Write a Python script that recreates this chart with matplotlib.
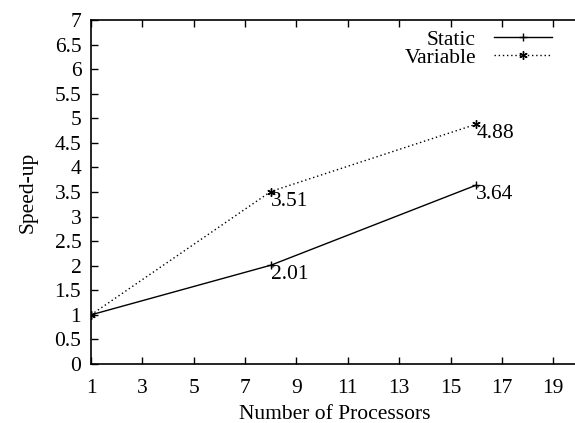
import matplotlib.pyplot as plt

processors = [1, 8, 16]
static = [1, 2.01, 3.64]
variable = [1, 3.51, 4.88]
xticks = [1, 3, 5, 7, 9, 11, 13, 15, 17, 19]
yticks = [0, 0.5, 1, 1.5, 2, 2.5, 3, 3.5, 4, 4.5, 5, 5.5, 6, 6.5, 7]

plt.rcParams['font.family'] = ['Liberation Serif', 'DejaVu Serif']
plt.rcParams['font.size'] = 15.5

fig = plt.figure(figsize=(5.75, 4.23), dpi=100)
# the scan is cut on the right, so the box runs past the edge of the picture
ax = fig.add_axes([91 / 575, 59 / 423, 488 / 575, 344 / 423])

ax.plot(processors, static, color='black', lw=1.0, marker='+', ms=6, mew=1.0, label='Static')
ax.plot(processors, variable, color='black', lw=1.0, ls=(0, (1, 2)), marker=(6, 2, 0), ms=6,
        mew=1.0, label='Variable')

# value labels next to the points
for x, y in zip(processors[1:], static[1:]):
    ax.text(x, y, '%.2f' % y, ha='left', va='top')
for x, y in zip(processors[1:], variable[1:]):
    ax.text(x, y, '%.2f' % y, ha='left', va='top')

ax.set_xlim(1, 20)
ax.set_ylim(0, 7)
ax.set_xticks(xticks)
ax.set_yticks(yticks)
ax.set_yticklabels(['%g' % t for t in yticks])
ax.tick_params(direction='in', top=True, length=5, width=1)
ax.tick_params(axis='x', pad=11)
ax.tick_params(axis='y', pad=7)
ax.spines['right'].set_visible(False)
for s in ['left', 'top', 'bottom']:
    ax.spines[s].set_linewidth(1.2)

ax.set_xlabel('Number of Processors', labelpad=5)
ax.set_ylabel('Speed-up', labelpad=12)

ax.legend(loc='upper right', bbox_to_anchor=(1 - 17 / 488, 1.0), frameon=False, markerfirst=False,
          handlelength=2.7, labelspacing=-0.1, handletextpad=0.85, borderaxespad=0.05)

fig.savefig('out.png', dpi=100)
